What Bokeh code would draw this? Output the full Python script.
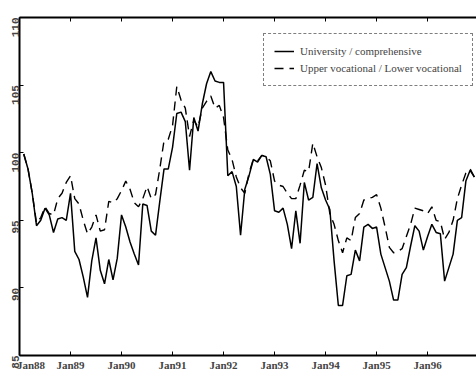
import math
from bokeh.plotting import figure
from bokeh.models import (Range1d, LinearAxis, FixedTicker, Legend, LegendItem,
                          ColumnDataSource, CustomLabelingPolicy)
from bokeh.embed import file_html
from bokeh.resources import INLINE

# Monthly index values, Feb 1988 .. Dec 1996 (month 0 = Jan 1988)
month_offset = list(range(1, 108))

university = [
    99.9, 98.8, 97.0, 94.6, 95.0, 95.9, 95.4, 94.1, 95.1, 95.2, 95.0,
    97.0, 92.7, 92.1, 90.8, 89.3, 92.0, 93.7, 91.3, 90.3, 92.1, 90.6, 92.2,
    95.4, 94.5, 93.4, 92.5, 91.7, 96.2, 96.1, 94.2, 93.9, 96.4, 98.8, 98.8,
    100.4, 102.9, 103.0, 102.3, 98.7, 102.6, 101.6, 103.6, 105.1, 106.0, 105.3, 105.2,
    105.2, 98.3, 98.6, 97.5, 93.9, 97.3, 98.3, 99.5, 99.3, 99.8, 99.7, 98.4,
    95.7, 95.6, 95.9, 94.7, 92.9, 95.7, 93.3, 97.8, 96.5, 96.7, 99.2, 97.4,
    96.5, 95.8, 92.0, 88.7, 88.7, 90.9, 91.0, 92.8, 92.0, 94.5, 94.7, 94.4,
    94.5, 92.5, 91.5, 90.5, 89.1, 89.1, 91.0, 91.5, 93.1, 94.6, 94.2, 92.8,
    93.8, 94.7, 94.1, 94.0, 90.5, 91.5, 92.5, 95.0, 95.2, 97.9, 98.7, 98.2,
]

vocational = [
    99.9, 98.8, 97.0, 94.8, 95.2, 96.0, 95.5, 95.4, 96.6, 97.0, 97.8,
    98.3, 96.6, 96.2, 95.0, 94.0, 94.5, 95.4, 94.2, 94.3, 96.4, 96.3, 96.6,
    97.2, 97.9, 97.3, 96.3, 96.0, 96.6, 97.5, 96.6, 96.9, 98.8, 100.9, 101.0,
    102.0, 104.9, 103.9, 103.3, 101.2, 102.4, 101.9, 103.3, 103.8, 104.2, 103.3, 103.5,
    102.6, 100.2, 99.5, 98.2, 97.4, 97.0, 98.5, 99.5, 99.4, 99.8, 99.7, 99.4,
    97.9, 97.6, 97.5, 97.0, 96.6, 96.6, 97.6, 98.7, 98.6, 100.7, 99.7, 98.9,
    97.6, 95.5, 94.7, 93.5, 92.6, 93.7, 93.5, 95.2, 95.5, 96.5, 96.6, 96.7,
    96.9, 95.9, 94.5, 93.0, 92.6, 92.7, 92.9, 93.8, 94.7, 95.9, 95.8, 95.7,
    95.5, 96.0, 95.0, 94.9, 93.6, 94.1, 95.0, 96.6, 97.6, 98.5, 98.8, 98.2,
]

tick_months = [0, 12, 24, 36, 48, 60, 72, 84, 96]
tick_labels = ["Jan88", "Jan89", "Jan90", "Jan91", "Jan92", "Jan93", "Jan94", "Jan95", "Jan96"]
y_ticks = [85, 90, 95, 100, 105, 110]

series_names = ["University / comprehensive", "Upper vocational / Lower vocational"]

LABEL_FONT = "'Liberation Serif', 'DejaVu Serif', serif"
NUM_FONT = "'Liberation Mono', 'DejaVu Sans Mono', monospace"

p = figure(width=476, height=376, output_backend="svg", toolbar_location=None,
           x_range=Range1d(0, 107.5), y_range=Range1d(85, 110),
           x_axis_type=None, y_axis_type=None,
           min_border_left=19, min_border_right=0,
           min_border_top=17, min_border_bottom=21)
p.outline_line_color = None
p.xgrid.visible = False
p.ygrid.visible = False
p.background_fill_color = "white"
p.border_fill_color = "white"

src = ColumnDataSource(dict(m=month_offset, uni=university, voc=vocational))
r_uni = p.line("m", "uni", source=src, line_color="black", line_width=1.5)
r_voc = p.line("m", "voc", source=src, line_color="black", line_width=1.4,
               line_dash="9 6")

x_ticker = FixedTicker(ticks=tick_months)
# the first label sits against the left edge, so it is padded to read clear of it
overrides = {m: lab for m, lab in zip(tick_months, tick_labels)}
overrides[0] = "\u00a0" * 6 + tick_labels[0]

bottom = LinearAxis(ticker=x_ticker, major_label_overrides=overrides)
bottom.major_label_text_font = LABEL_FONT
bottom.major_label_text_font_style = "bold"
bottom.major_label_text_font_size = "11px"
bottom.major_label_standoff = 3
bottom.major_tick_in = 4
bottom.major_tick_out = 0
bottom.minor_tick_line_color = None
bottom.axis_line_width = 2
p.add_layout(bottom, "below")

# top edge: ticks only, no labels
top = LinearAxis(ticker=x_ticker,
                 major_label_policy=CustomLabelingPolicy(code="return new Set()"))
top.major_label_standoff = 0
top.major_tick_in = 4
top.major_tick_out = 0
top.minor_tick_line_color = None
top.axis_line_width = 2
p.add_layout(top, "above")

left = LinearAxis(ticker=FixedTicker(ticks=y_ticks))
left.major_label_orientation = math.pi / 2
left.major_label_text_font = NUM_FONT
left.major_label_text_font_size = "11px"
left.major_label_text_font_style = "bold"
left.major_label_standoff = 4
left.major_tick_in = 4
left.major_tick_out = 0
left.minor_tick_line_color = None
left.axis_line_width = 2
p.add_layout(left, "left")

legend = Legend(items=[LegendItem(label=series_names[0], renderers=[r_uni]),
                       LegendItem(label=series_names[1], renderers=[r_voc])],
                location=(244, 269))
legend.label_text_font = LABEL_FONT
legend.label_text_font_size = "11px"
legend.padding = 10
legend.spacing = 3
legend.label_height = 14
legend.glyph_height = 14
legend.glyph_width = 20
legend.label_standoff = 6
legend.border_line_color = "black"
legend.border_line_width = 1
legend.border_line_dash = "4 1"
legend.background_fill_alpha = 1
legend.margin = 0
p.add_layout(legend, "center")

open("out.html", "w").write(file_html(p, INLINE))
